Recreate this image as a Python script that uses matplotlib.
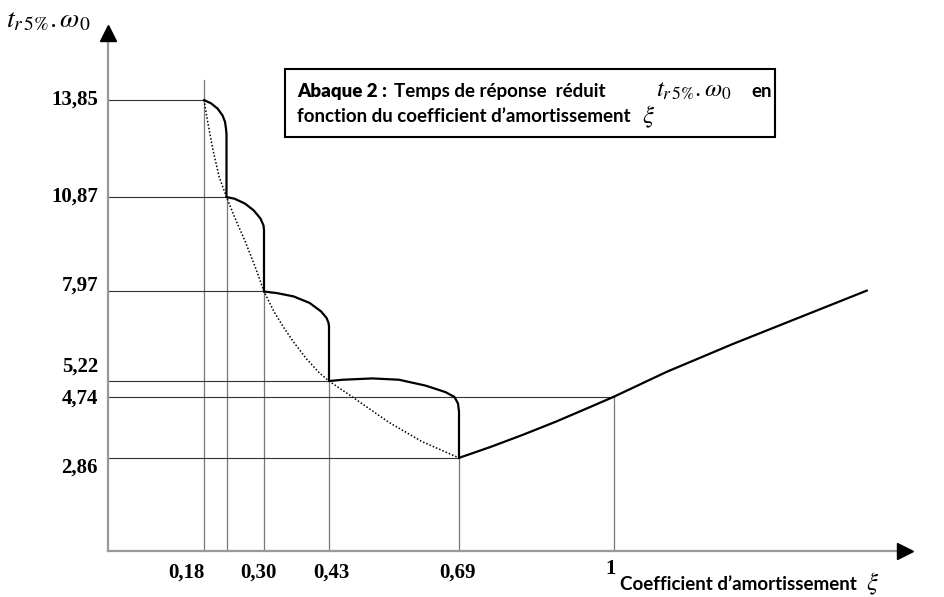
import matplotlib
matplotlib.use("Agg")
import matplotlib.pyplot as plt
from matplotlib.patches import Rectangle

plt.rcParams['mathtext.fontset'] = 'stix'

xi_marks = [0.18, 0.30, 0.43, 0.69, 1.0]
xi_labels = ["0,18", "0,30", "0,43", "0,69", "1"]
t_marks = [13.85, 10.87, 7.97, 5.22, 4.74, 2.86]
t_labels = ["13,85", "10,87", "7,97", "5,22", "4,74", "2,86"]

# points de la courbe (paliers arrondis)
seg1_x = [0.18, 0.194, 0.207, 0.217, 0.222, 0.224, 0.225, 0.225]
seg1_y = [13.85, 13.75, 13.59, 13.38, 13.18, 12.97, 12.80, 10.87]
seg2_x = [0.225, 0.241, 0.262, 0.2795, 0.293, 0.299, 0.30, 0.30]
seg2_y = [10.87, 10.82, 10.67, 10.46, 10.21, 10.0, 9.85, 7.97]
seg3_x = [0.30, 0.326, 0.359, 0.391, 0.414, 0.425, 0.429, 0.43, 0.43]
seg3_y = [7.97, 7.92, 7.82, 7.62, 7.36, 7.16, 7.01, 6.90, 5.22]
seg4_x = [0.43, 0.458, 0.517, 0.57, 0.623, 0.663, 0.681, 0.688, 0.69, 0.69]
seg4_y = [5.22, 5.26, 5.30, 5.26, 5.08, 4.88, 4.73, 4.53, 4.28, 2.86]
seg5_x = [0.69, 0.752, 0.818, 0.885, 0.952, 1.0, 1.105, 1.238, 1.372, 1.506]
seg5_y = [2.86, 3.19, 3.57, 3.98, 4.42, 4.74, 5.50, 6.36, 7.18, 8.00]

# enveloppe en pointillés
env_x = [0.18, 0.188, 0.198, 0.2105, 0.225, 0.241, 0.262, 0.2825, 0.30, 0.32,
         0.34, 0.36, 0.385, 0.41, 0.43, 0.474, 0.55, 0.616, 0.69]
env_y = [13.85, 13.13, 12.31, 11.48, 10.87, 10.26, 9.52, 8.72, 7.97, 7.35,
         6.85, 6.40, 5.90, 5.48, 5.22, 4.76, 3.95, 3.36, 2.86]

# lignes de rappel : (xi, t)
guide_x = [0.18, 0.225, 0.30, 0.43, 0.69, 1.0]
guide_y = [13.85, 10.87, 7.97, 5.22, 2.86, 4.74]

W, H = 945, 597
fig = plt.figure(figsize=(W / 100, H / 100), dpi=100)
ax = fig.add_axes([0, 0, 1, 1])
ax.set_xlim(-114 / 500, (W - 114) / 500)
ax.set_ylim(-(H - 551) / 32.56, 551 / 32.56)
ax.axis('off')

x_axe = -0.012

# lignes de rappel
for gx, gy in zip(guide_x, guide_y):
    ax.plot([x_axe, gx], [gy, gy], color="#333333", lw=0.8, zorder=1)
    top = 14.47 if gx == 0.18 else gy
    ax.plot([gx, gx], [0, top], color="#777777", lw=0.9, zorder=1)

# axes avec flèches
ax.plot([x_axe, 1.566], [0, 0], color="#999999", lw=1.6, zorder=2)
ax.plot([x_axe, x_axe], [0, 15.6], color="#999999", lw=1.6, zorder=2)
ax.plot(1.582, 0, marker=">", ms=12, color="black", zorder=3)
ax.plot(x_axe, 15.9, marker="^", ms=12, color="black", zorder=3)

# courbe
ax.plot(env_x, env_y, color="black", lw=1.1, linestyle=(0, (1, 1.3)), zorder=3)
for sx, sy in [(seg1_x, seg1_y), (seg2_x, seg2_y), (seg3_x, seg3_y),
               (seg4_x, seg4_y), (seg5_x, seg5_y)]:
    ax.plot(sx, sy, color="black", lw=1.6, solid_capstyle="round",
            solid_joinstyle="round", zorder=4)

# graduations
serif = dict(family="Liberation Serif", weight="bold", fontsize=15)
x_off = [-18, -6, 2, -2, -3]
y_tick = [-22, -22, -22, -22, -18]
for v, lab, dx, dy in zip(xi_marks, xi_labels, x_off, y_tick):
    ax.annotate(lab, xy=(v, 0), xytext=(dx, dy), textcoords="offset pixels",
                ha="center", va="center", **serif)
y_off = [0, 0, 6, 14, -2, -10]
for v, lab, dy in zip(t_marks, t_labels, y_off):
    ax.annotate(lab, xy=(x_axe, v), xytext=(-10, dy), textcoords="offset pixels",
                ha="right", va="center", **serif)

def fx(px):
    return px / W

def fy(py):
    return 1 - py / H

# titre de l'axe vertical
fig.text(fx(6), fy(19), r"$t_{r\,\mathrm{5\%}}.\omega_0$", fontsize=20,
         ha="left", va="center")

# cadre du titre
fig.patches.append(Rectangle((fx(285), fy(137)), fx(775) - fx(285), fy(69) - fy(137),
                             transform=fig.transFigure, fill=False, lw=1.5,
                             edgecolor="black"))
sans = dict(family=["Lato", "DejaVu Sans"], fontsize=13.5)
fig.text(fx(297), fy(97), "Abaque 2 :", weight="heavy", ha="left", va="baseline", **sans)
fig.text(fx(394), fy(97), "Temps de réponse  réduit", weight="bold", ha="left",
         va="baseline", **sans)
fig.text(fx(656), fy(97), r"$t_{r\,\mathrm{5\%}}.\omega_0$", fontsize=18,
         ha="left", va="baseline")
fig.text(fx(751), fy(97), "en", weight="bold", ha="left", va="baseline", **sans)
fig.text(fx(297), fy(122), "fonction du coefficient d\u2019amortissement", weight="bold",
         ha="left", va="baseline", **sans)
fig.text(fx(642), fy(123), r"$\xi$", fontsize=18, ha="left", va="baseline")

# titre de l'axe horizontal
fig.text(fx(620), fy(590), "Coefficient d\u2019amortissement", weight="bold",
         ha="left", va="baseline", **sans)
fig.text(fx(866), fy(590), r"$\xi$", fontsize=18, ha="left", va="baseline")

fig.savefig("out.png", dpi=100)
